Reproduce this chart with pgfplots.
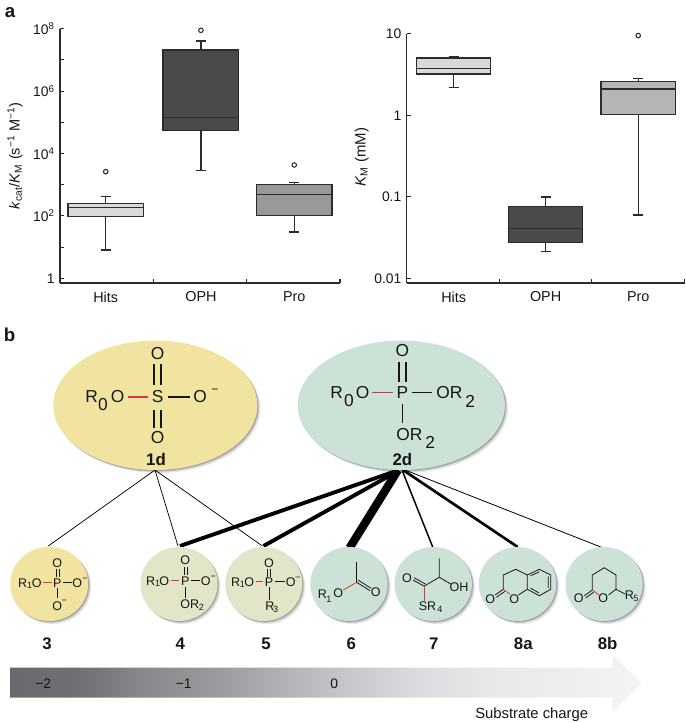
\documentclass[border=0pt]{standalone}
\usepackage{pgfplots}
\pgfplotsset{compat=1.18}
\usepgfplotslibrary{statistics}
\usepackage{fontspec}
\setmainfont{Liberation Sans}
\definecolor{ln}{HTML}{2C2C2C}
\definecolor{yel}{HTML}{F1E4A1}
\definecolor{grn}{HTML}{CCE2D7}
\definecolor{olv}{HTML}{E3E5C9}
\definecolor{txt}{HTML}{161616}
\definecolor{redb}{HTML}{D8383F}
\definecolor{boxa}{HTML}{D9D9D9}
\definecolor{boxb}{HTML}{4A4A4A}
\definecolor{boxc}{HTML}{999999}
\definecolor{boxd}{HTML}{B5B5B5}
\pgfdeclarehorizontalshading{arrowgrad}{100bp}{
  rgb(0bp)=(0.416,0.416,0.431);
  rgb(25bp)=(0.416,0.416,0.431);
  rgb(30.5bp)=(0.44,0.44,0.455);
  rgb(35.3bp)=(0.53,0.53,0.545);
  rgb(41.6bp)=(0.61,0.61,0.625);
  rgb(46.4bp)=(0.69,0.69,0.71);
  rgb(51.1bp)=(0.77,0.77,0.79);
  rgb(57.5bp)=(0.865,0.865,0.88);
  rgb(63.8bp)=(0.915,0.915,0.925);
  rgb(75bp)=(0.955,0.955,0.96);
  rgb(100bp)=(0.955,0.955,0.96)}
\newcommand{\blob}[5]{% x,y,rx,ry,color
  \fill[black,opacity=.10] (#1+3.0,#2+3.0) ellipse[x radius=#3,y radius=#4];
  \fill[black,opacity=.14] (#1+1.8,#2+1.8) ellipse[x radius=#3,y radius=#4];
  \fill[black,opacity=.18] (#1+0.9,#2+0.9) ellipse[x radius=#3,y radius=#4];
  \fill[#5] (#1,#2) ellipse[x radius=#3,y radius=#4];}
\tikzset{
  big/.style={font=\fontsize{13}{15}\selectfont,text=txt,inner sep=0pt},
  bigm/.style={font=\fontsize{9}{10}\selectfont,text=txt,inner sep=0pt},
  sm/.style={font=\fontsize{9.4}{11}\selectfont,text=txt,inner sep=0pt},
  smsub/.style={font=\fontsize{6.8}{8}\selectfont,text=txt,inner sep=0pt},
  num/.style={font=\fontsize{12.6}{14}\selectfont\bfseries,text=txt,inner sep=0pt},
  bb/.style={draw=txt,line width=.85pt},
  sb/.style={draw=txt,line width=.6pt},
  rb/.style={draw=redb,line width=.85pt},
  srb/.style={draw=redb,line width=.6pt}
}
\begin{document}
\begin{tikzpicture}
\path[use as bounding box] (0,0) rectangle (513.75pt,-542.25pt);

% ---------- panel a, left
\begin{axis}[
  scale only axis,
  axis x line*=bottom, axis y line*=left,
  axis line style={draw=ln,line width=.85pt},
  ymode=log, log basis y=10,
  xmin=0,xmax=3,
  xtick={1,2,3},xticklabels={,,},
  major tick length=3.2pt,
  tick align=inside,
  tick style={draw=ln,line width=.85pt},
  minor y tick num=0,
  extra x tick style={major tick length=0pt},
  extra x tick labels={Hits,OPH,Pro},
  x tick label style={font=\fontsize{10.8}{12}\selectfont,text=txt,yshift=-3pt},
  y tick label style={font=\fontsize{10.4}{12}\selectfont,text=txt,xshift=-.5pt},
  boxplot/draw direction=y,
  boxplot/whisker extend=0.11,
  clip=false,
  at={(45pt,-212.25pt)},anchor=south west,
  width=210pt,height=190.7pt,
  ymin=0.708,ymax=1e8,
  ytick={1,10,100,1000,1e4,1e5,1e6,1e7,1e8},
  yticklabels={1,,10\textsuperscript{2},,10\textsuperscript{4},,10\textsuperscript{6},,10\textsuperscript{8}},
  extra x ticks={0.49,1.51,2.51},
  ylabel={\textit{k}\textsubscript{cat}/\textit{K}\textsubscript{M} (s\textsuperscript{−1} M\textsuperscript{−1})},
  ylabel style={font=\fontsize{10.9}{12}\selectfont,text=txt,anchor=center,at={(axis description cs:-0.161,0.5)}},
]
\addplot[draw=ln,line width=1.05pt,fill=boxa,solid,mark=o,mark size=1.7pt,mark options={draw=ln,line width=.8pt,fill=white},
  boxplot prepared={draw position=0.49,box extend=0.81,
  lower whisker=8.1,lower quartile=97,median=189,upper quartile=253,upper whisker=414}]
  coordinates {(0,2620)};
\addplot[draw=ln,line width=1.05pt,fill=boxb,solid,mark=o,mark size=1.7pt,mark options={draw=ln,line width=.8pt,fill=white},
  boxplot prepared={draw position=1.51,box extend=0.81,
  lower whisker=2820,lower quartile=55400,median=144000,upper quartile=2.08e7,upper whisker=4.05e7}]
  coordinates {(0,8.9e7)};
\addplot[draw=ln,line width=1.05pt,fill=boxc,solid,mark=o,mark size=1.7pt,mark options={draw=ln,line width=.8pt,fill=white},
  boxplot prepared={draw position=2.51,box extend=0.81,
  lower whisker=30.5,lower quartile=105,median=492,upper quartile=1005,upper whisker=1165}]
  coordinates {(0,4290)};
\end{axis}

% ---------- panel a, right
\begin{axis}[
  scale only axis,
  axis x line*=bottom, axis y line*=left,
  axis line style={draw=ln,line width=.85pt},
  ymode=log, log basis y=10,
  xmin=0,xmax=3,
  xtick={1,2,3},xticklabels={,,},
  major tick length=3.2pt,
  tick align=inside,
  tick style={draw=ln,line width=.85pt},
  minor y tick num=0,
  extra x tick style={major tick length=0pt},
  extra x tick labels={Hits,OPH,Pro},
  x tick label style={font=\fontsize{10.8}{12}\selectfont,text=txt,yshift=-3pt},
  y tick label style={font=\fontsize{10.4}{12}\selectfont,text=txt,xshift=-.5pt},
  boxplot/draw direction=y,
  boxplot/whisker extend=0.11,
  clip=false,
  at={(305pt,-212.25pt)},anchor=south west,
  width=208.4pt,height=187pt,
  ymin=0.00879,ymax=10,
  ytick={0.01,0.1,1,10},
  yticklabels={0.01,0.1,1,10},
  extra x ticks={0.508,1.5,2.5},
  ylabel={\textit{K}\textsubscript{M} (mM)},
  ylabel style={font=\fontsize{11.2}{12}\selectfont,text=txt,anchor=center,at={(axis description cs:-0.162,0.505)}},
]
\addplot[draw=ln,line width=1.05pt,fill=boxa,solid, boxplot prepared={draw position=0.508,box extend=0.80,
  lower whisker=2.2,lower quartile=3.21,median=3.77,upper quartile=5.05,upper whisker=5.29}]
  coordinates {};
\addplot[draw=ln,line width=1.05pt,fill=boxb,solid, boxplot prepared={draw position=1.5,box extend=0.80,
  lower whisker=0.0213,lower quartile=0.0277,median=0.0412,upper quartile=0.0759,upper whisker=0.0997}]
  coordinates {};
\addplot[draw=ln,line width=1.05pt,fill=boxd,solid,mark=o,mark size=1.7pt,mark options={draw=ln,line width=.8pt,fill=white}, boxplot prepared={draw position=2.5,box extend=0.80,
  lower whisker=0.06,lower quartile=1.03,median=2.10,upper quartile=2.61,upper whisker=2.82}]
  coordinates {(0,9.48)};
\end{axis}

% ---------- schematic, in pixel coordinates
\begin{scope}[x=0.75pt,y=-0.75pt]
\node[font=\fontsize{14}{15}\selectfont\bfseries,text=txt,inner sep=0pt] at (10,13) {a};
\node[font=\fontsize{14}{15}\selectfont\bfseries,text=txt,inner sep=0pt] at (9.5,335) {b};

% connecting lines
\draw[black,line width=.55pt] (155,470)--(48.3,546);
\draw[black,line width=.55pt] (155,470)--(178,546);
\draw[black,line width=.55pt] (155,470)--(262.3,546);
\draw[black,line width=2.9pt] (396,471)--(180,546);
\draw[black,line width=2.9pt] (398,471)--(263.5,546);
\draw[black,line width=6.2pt] (398,470)--(349.5,548);
\draw[black,line width=1.1pt] (402,470)--(432.7,547);
\draw[black,line width=2.0pt] (403,470)--(517.7,547);
\draw[black,line width=.6pt] (405,470)--(603.3,548);

% large ellipses
\blob{155.3}{405.3}{102}{64.7}{yel}
\blob{401.3}{405.3}{103.6}{64.7}{grn}

% 1d
\node[big] at (91.7,397) {R};
\node[big] at (103,405) {0};
\node[big] at (117.7,397) {O};
\draw[rb] (128.3,397)--(148.3,397);
\node[big] at (157.7,397) {S};
\draw[bb] (168,397)--(190,397);
\node[big] at (200,397) {O};
\node[bigm] at (215,391) {−};
\draw[bb] (154,364.3)--(154,385) (161,364.3)--(161,385);
\node[big] at (157.7,353.3) {O};
\draw[bb] (154,410)--(154,428.3) (161,410)--(161,428.3);
\node[big] at (157.7,437.3) {O};
\node[num] at (156,459.3) {1d};

% 2d
\node[big] at (336.7,392.7) {R};
\node[big] at (349,401) {0};
\node[big] at (362.7,392.7) {O};
\draw[rb] (372.3,392.7)--(393.3,392.7);
\node[big] at (402.3,392.7) {P};
\draw[bb] (412.3,392.7)--(432.3,392.7);
\node[big] at (449.3,392.7) {OR};
\node[big] at (470.3,401) {2};
\draw[bb] (399,361.7)--(399,381.7) (406,361.7)--(406,381.7);
\node[big] at (402.3,351) {O};
\draw[bb] (402.7,404)--(402.7,423.3);
\node[big] at (409.3,434.3) {OR};
\node[big] at (430.3,442.3) {2};
\node[num] at (402.3,459.3) {2d};

% small circles
\blob{49.2}{584}{39}{37}{yel}
\blob{179}{584}{38.5}{37}{olv}
\blob{263.7}{584}{38.5}{37}{olv}
\blob{349}{584}{38.7}{37}{grn}
\blob{433.2}{584}{38.7}{37}{grn}
\blob{517.5}{584}{38.7}{37}{grn}
\blob{604}{584}{38.7}{37}{grn}

% 3
\node[sm] at (22.7,582.7) {R};
\node[smsub] at (29.7,585) {1};
\node[sm] at (36.7,582.7) {O};
\draw[srb] (43.3,582.7)--(51.7,582.7);
\node[sm] at (57.3,582.7) {P};
\draw[sb] (63.3,582.7)--(71.7,582.7);
\node[sm] at (77.3,582.7) {O};
\node[smsub] at (85,580) {−};
\draw[sb] (56,569.3)--(56,577.3) (59,569.3)--(59,577.3);
\node[sm] at (57.3,562.7) {O};
\draw[sb] (57.3,588.3)--(57.3,598.3);
\node[sm] at (57.3,606) {O};
\node[smsub] at (64.3,602.3) {−};

% 4
\node[sm] at (150.7,580.7) {R};
\node[smsub] at (157.7,583.3) {1};
\node[sm] at (164.3,580.7) {O};
\draw[srb] (170.7,580.7)--(179.3,580.7);
\node[sm] at (185.3,580.7) {P};
\draw[sb] (191.3,580.7)--(200,580.7);
\node[sm] at (205.7,580.7) {O};
\node[smsub] at (213.3,578.3) {−};
\draw[sb] (184,567.3)--(184,575) (187,567.3)--(187,575);
\node[sm] at (185.3,560) {O};
\draw[sb] (185.3,586.7)--(185.3,598.3);
\node[sm] at (189.7,604) {OR};
\node[smsub] at (201.3,607.7) {2};

% 5
\node[sm] at (235.7,581.7) {R};
\node[smsub] at (242.3,584.3) {1};
\node[sm] at (249.3,581.7) {O};
\draw[srb] (255.7,581.7)--(263.3,581.7);
\node[sm] at (269,581.7) {P};
\draw[sb] (275,581.7)--(285,581.7);
\node[sm] at (290.7,581.7) {O};
\node[smsub] at (297.7,579.3) {−};
\draw[sb] (267.7,569.3)--(267.7,576.7) (270.7,569.3)--(270.7,576.7);
\node[sm] at (269,563.3) {O};
\draw[sb] (269,587.3)--(269,600);
\node[sm] at (270,606.3) {R};
\node[smsub] at (275.7,609) {3};

% 6
\node[sm] at (322.3,594) {R};
\node[smsub] at (329,599) {1};
\node[sm] at (338.3,593.3) {O};
\draw[srb] (343.3,590)--(356.7,582.3);
\draw[sb] (356.7,582.3)--(356.7,561.7);
\draw[sb] (356.7,582.3)--(370,590.7) (358,580)--(371.2,588.4);
\node[sm] at (375.7,592.3) {O};

% 7
\node[sm] at (407,578.3) {O};
\draw[sb] (413,580)--(424.3,586.3) (414.2,577.8)--(425.5,584.1);
\draw[sb] (424.3,586)--(439.3,577.3)--(439.3,558.3);
\draw[sb] (439.3,577.3)--(450.7,584);
\node[sm] at (459,587) {OH};
\draw[srb] (424.3,586)--(424.3,601);
\node[sm] at (427.5,606) {SR};
\node[smsub] at (440,609) {4};

% 8a
\node[sm] at (490.3,599.3) {O};
\draw[sb] (495,595)--(503.3,589.3) (496.4,597.2)--(504.7,591.5);
\node[sm] at (514.3,599) {O};
\draw[srb] (503.3,589.3)--(510,594.3);
\draw[sb] (503.3,589.3)--(503.3,575)--(515.7,569.3)--(527.3,575);
\draw[sb] (527.3,589.3)--(518.3,595);
\draw[sb] (527.3,575)--(539.3,569.3)--(550.7,575)--(550.7,589.3)--(539.3,595.7)--(527.3,589.3)--cycle;
\draw[sb] (530.5,575.8)--(539.3,571.8) (548.3,576.3)--(548.3,588) (538.8,592.8)--(530.5,588.2);

% 8b
\node[sm] at (578.7,598.3) {O};
\draw[sb] (584.3,595.7)--(592.3,590) (585.7,597.9)--(593.7,592.2);
\draw[sb] (592.3,590)--(592.3,575)--(604.3,567.7)--(616,575)--(616,589.3);
\draw[srb] (592.3,590)--(599,595);
\node[sm] at (603.3,598.3) {O};
\draw[sb] (616,589.3)--(608.5,595);
\draw[sb] (616,589.3)--(625,594);
\node[sm] at (629.5,595.5) {R};
\node[smsub] at (636,598.5) {5};

% compound numbers
\foreach \x/\t in {47/3,180.3/4,266/5,351.3/6,433.7/7,523.3/8a,607.7/8b}
  \node[num,anchor=base] at (\x,649) {\t};

% charge arrow
\shade[shading=arrowgrad]
  (10,667.7)--(612.7,667.7)--(612.7,655)--(641.7,683)--(612.7,711.7)--(612.7,697.7)--(10,697.7)--cycle;
\node[font=\fontsize{10.4}{11}\selectfont,text=txt,inner sep=0pt] at (43.3,684) {−2};
\node[font=\fontsize{10.4}{11}\selectfont,text=txt,inner sep=0pt] at (183.7,684) {−1};
\node[font=\fontsize{10.4}{11}\selectfont,text=txt,inner sep=0pt] at (334.3,684) {0};
\node[font=\fontsize{11.1}{13}\selectfont,text=txt,inner sep=0pt] at (531.7,714.3) {Substrate charge};
\end{scope}
\end{tikzpicture}
\end{document}
